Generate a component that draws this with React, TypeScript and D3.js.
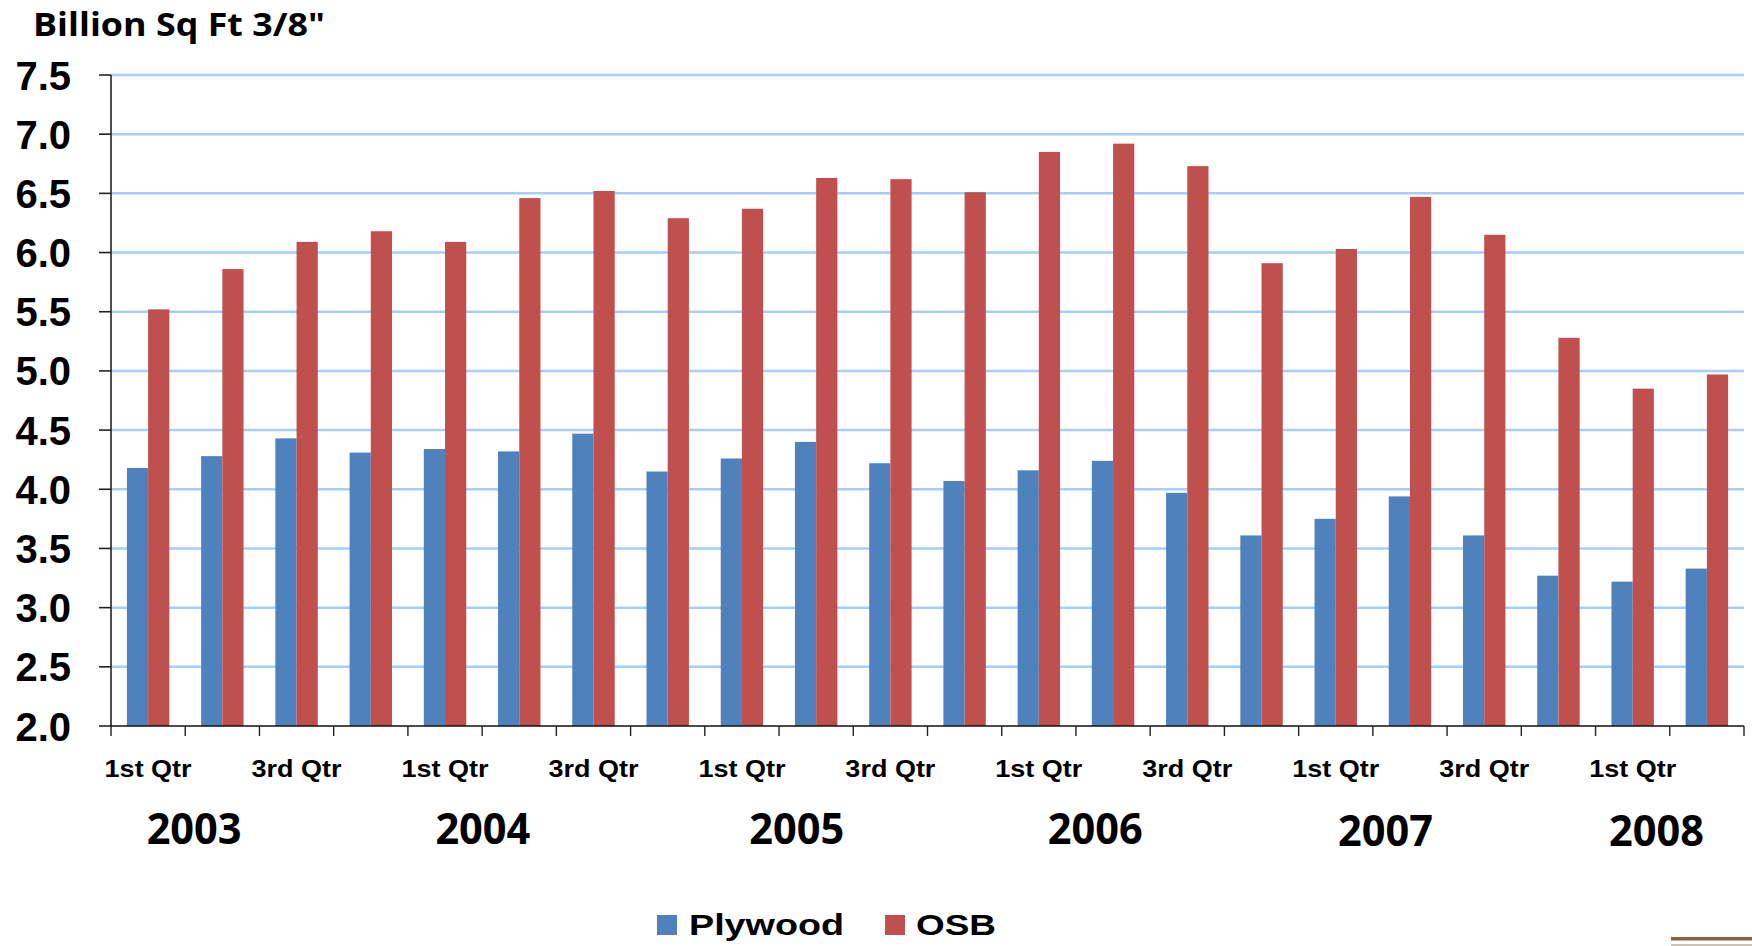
import React from "react";
import * as d3 from "d3";

// ---------- data ----------
const quarters = [
  "1st Qtr", "2nd Qtr", "3rd Qtr", "4th Qtr",
  "1st Qtr", "2nd Qtr", "3rd Qtr", "4th Qtr",
  "1st Qtr", "2nd Qtr", "3rd Qtr", "4th Qtr",
  "1st Qtr", "2nd Qtr", "3rd Qtr", "4th Qtr",
  "1st Qtr", "2nd Qtr", "3rd Qtr", "4th Qtr",
  "1st Qtr", "2nd Qtr",
];
const plywood = [4.18, 4.28, 4.43, 4.31, 4.34, 4.32, 4.47, 4.15, 4.26, 4.40, 4.22, 4.07, 4.16, 4.24, 3.97, 3.61, 3.75, 3.94, 3.61, 3.27, 3.22, 3.33];
const osb = [5.52, 5.86, 6.09, 6.18, 6.09, 6.46, 6.52, 6.29, 6.37, 6.63, 6.62, 6.51, 6.85, 6.92, 6.73, 5.91, 6.03, 6.47, 6.15, 5.28, 4.85, 4.97];
const years = ["2003", "2004", "2005", "2006", "2007", "2008"];
const seriesNames = ["Plywood", "OSB"];
const yTicks = [2.0, 2.5, 3.0, 3.5, 4.0, 4.5, 5.0, 5.5, 6.0, 6.5, 7.0, 7.5];
const title = 'Billion Sq Ft 3/8"';

// ---------- layout ----------
const W = 1752;
const H = 946;
const plot = { left: 111, right: 1744, top: 75, bottom: 726 };
const colors = ["#4f81bd", "#c0504d"];
const gridColor = "#a6cef6";
// where the hand-placed year captions sit, in category units along the axis
const yearPos = [1.12, 5.01, 9.24, 13.26, 17.17, 20.82];
const yearBase = [844, 844, 844, 844, 846, 846];

export default function App() {
  const idx = quarters.map((_, i) => i);
  const x0 = d3.scaleBand<number>().domain(idx).range([plot.left, plot.right]).paddingInner(0).paddingOuter(0);
  const step = x0.step();
  const x1 = d3.scaleBand<string>().domain(seriesNames).range([0, step]).paddingInner(0).paddingOuter(0.75);
  const y = d3.scaleLinear().domain([2, 7.5]).range([plot.bottom, plot.top]);
  const xCont = d3.scaleLinear().domain([0, quarters.length]).range([plot.left, plot.right]);
  const series = [plywood, osb];

  const boundaries = d3.range(quarters.length + 1);

  return (
    <div style={{ position: "absolute", left: 0, top: 0 }}>
      <svg width={W} height={H} style={{ display: "block", background: "#fff" }}>
        {/* title */}
        <text x={33} y={36} fontFamily="Open Sans" fontWeight={700} fontSize={32} textLength={292} lengthAdjust="spacingAndGlyphs" fill="#000">
          {title}
        </text>

        {/* gridlines */}
        {yTicks.filter((t) => t > 2).map((t) => (
          <line key={"g" + t} x1={plot.left} x2={plot.right} y1={y(t)} y2={y(t)} stroke={gridColor} strokeWidth={2.5} />
        ))}

        {/* bars */}
        {series.map((vals, s) =>
          vals.map((v, i) => (
            <rect
              key={s + "-" + i}
              x={(x0(i) as number) + (x1(seriesNames[s]) as number)}
              y={y(v)}
              width={x1.bandwidth()}
              height={y(2) - y(v)}
              fill={colors[s]}
            />
          ))
        )}

        {/* y axis */}
        <line x1={plot.left} x2={plot.left} y1={y(7.5)} y2={y(2)} stroke="#222" strokeWidth={1.6} />
        {yTicks.map((t) => (
          <g key={"yt" + t}>
            <line x1={plot.left - 12} x2={plot.left} y1={y(t)} y2={y(t)} stroke="#222" strokeWidth={1.6} />
            <text x={71} y={y(t) + 14.5} textAnchor="end" fontFamily="Liberation Sans, Arial" fontWeight={700} fontSize={40} fill="#000">
              {d3.format(".1f")(t)}
            </text>
          </g>
        ))}

        {/* x axis */}
        <line x1={plot.left} x2={plot.right} y1={y(2)} y2={y(2)} stroke="#111" strokeWidth={1.6} />
        {boundaries.map((b) => (
          <line key={"xt" + b} x1={xCont(b)} x2={xCont(b)} y1={y(2)} y2={y(2) + 10} stroke="#222" strokeWidth={1.4} />
        ))}
        {quarters.map((q, i) =>
          i % 2 === 0 ? (
            <text
              key={"xl" + i}
              x={(x0(i) as number) + step / 2}
              y={777}
              textAnchor="middle"
              fontFamily="Liberation Sans, Arial"
              fontWeight={700}
              fontSize={24}
              textLength={q.startsWith("3") ? 90 : 87}
              lengthAdjust="spacingAndGlyphs"
              fill="#000"
            >
              {q}
            </text>
          ) : null
        )}

        {/* year captions */}
        {years.map((yr, i) => (
          <text
            key={yr}
            x={xCont(yearPos[i])}
            y={yearBase[i]}
            textAnchor="middle"
            fontFamily="Open Sans"
            fontWeight={700}
            fontSize={43}
            textLength={95}
            lengthAdjust="spacingAndGlyphs"
            fill="#000"
          >
            {yr}
          </text>
        ))}

        {/* legend */}
        <rect x={657} y={915} width={20} height={20} fill={colors[0]} />
        <text x={689} y={935} fontFamily="Liberation Sans, Arial" fontWeight={700} fontSize={30} textLength={155} lengthAdjust="spacingAndGlyphs" fill="#000">
          {seriesNames[0]}
        </text>
        <rect x={885} y={915} width={20} height={20} fill={colors[1]} />
        <text x={916} y={935} fontFamily="Liberation Sans, Arial" fontWeight={700} fontSize={30} textLength={80} lengthAdjust="spacingAndGlyphs" fill="#000">
          {seriesNames[1]}
        </text>

        {/* decorative slide rule bottom-right */}
        <rect x={1671} y={937} width={81} height={3.5} fill="#7f6541" />
        <rect x={1671} y={944.5} width={81} height={1} fill="#9a8566" />
      </svg>
    </div>
  );
}
